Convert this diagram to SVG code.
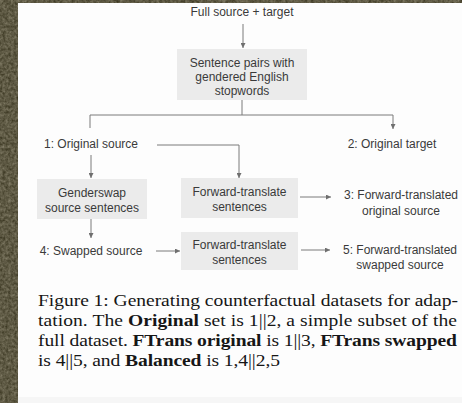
<svg xmlns="http://www.w3.org/2000/svg" width="462" height="403" viewBox="0 0 462 403">
<defs>
<filter id="grain" x="0" y="0" width="100%" height="100%">
<feTurbulence type="fractalNoise" baseFrequency="0.35" numOctaves="3" seed="4"/>
<feColorMatrix type="matrix" values="0 0 0 0 0.23  0 0 0 0 0.21  0 0 0 0 0.14  0 0 0 -1.2 1.1"/>
</filter>
<marker id="ah" viewBox="0 0 10 10" refX="10" refY="5" markerWidth="5" markerHeight="5" markerUnits="userSpaceOnUse" orient="auto">
<path d="M0,0 L10,5 L0,10 z" fill="#6f6f6f"/>
</marker>
<style>
.box{fill:#ebebeb;}
.lbl{font-family:"Liberation Sans",Arial,sans-serif;font-size:12px;fill:#3a3a3a;text-anchor:middle;}
.cap{font-family:"Liberation Serif","Times New Roman",serif;font-size:17px;fill:#161616;}
.b{font-weight:bold;}
.con{fill:none;stroke:#7a7a7a;stroke-width:1;}
.arr{marker-end:url(#ah);}
</style>
</defs>
<rect x="0" y="0" width="462" height="403" fill="#38341f"/>
<rect x="0" y="0" width="462" height="403" filter="url(#grain)"/>
<rect x="18" y="3" width="444" height="394" fill="#fdfdfd"/>
<rect x="18" y="397" width="444" height="6" fill="#f6f6f6"/>

<g id="connectors">
<line class="con arr" x1="243" y1="24" x2="243" y2="48"/>
<polyline class="con" points="242,100 242,115"/>
<polyline class="con arr" points="90,128 90,115 393,115 393,129"/>
<polyline class="con arr" points="157,145 239,145 239,178"/>
<line class="con arr" x1="91" y1="155" x2="91" y2="178"/>
<line class="con arr" x1="300" y1="197" x2="331" y2="197"/>
<line class="con arr" x1="91" y1="219" x2="91" y2="238"/>
<line class="con arr" x1="156" y1="251" x2="180" y2="251"/>
<line class="con arr" x1="301" y1="250" x2="330" y2="250"/>
</g>

<g id="full-source-target">
<text class="lbl" x="242" y="16">Full source + target</text>
</g>
<g id="sentence-pairs">
<rect class="box" x="177" y="49" width="130" height="51"/>
<text class="lbl" x="242" y="67">Sentence pairs with</text>
<text class="lbl" x="242" y="81">gendered English</text>
<text class="lbl" x="242" y="95">stopwords</text>
</g>
<g id="original-source">
<text class="lbl" x="91" y="148">1: Original source</text>
</g>
<g id="original-target">
<text class="lbl" x="392" y="148">2: Original target</text>
</g>
<g id="genderswap">
<rect class="box" x="37" y="179" width="110" height="40"/>
<text class="lbl" x="92" y="197">Genderswap</text>
<text class="lbl" x="92" y="212">source sentences</text>
</g>
<g id="forward-translate-1">
<rect class="box" x="181" y="178" width="117" height="40"/>
<text class="lbl" x="239.5" y="196">Forward-translate</text>
<text class="lbl" x="239.5" y="211">sentences</text>
</g>
<g id="ft-original-source">
<text class="lbl" x="401" y="199">3: Forward-translated</text>
<text class="lbl" x="401" y="215">original source</text>
</g>
<g id="swapped-source">
<text class="lbl" x="91" y="255">4: Swapped source</text>
</g>
<g id="forward-translate-2">
<rect class="box" x="181" y="232" width="117" height="38"/>
<text class="lbl" x="239.5" y="249">Forward-translate</text>
<text class="lbl" x="239.5" y="264">sentences</text>
</g>
<g id="ft-swapped-source">
<text class="lbl" x="400" y="254">5: Forward-translated</text>
<text class="lbl" x="400" y="269">swapped source</text>
</g>

<g id="caption" transform="scale(1.15 1)">
<text class="cap" x="33.04" y="306" textLength="365.2" lengthAdjust="spacing">Figure 1: Generating counterfactual datasets for adap-</text>
<text class="cap" x="33.04" y="326" textLength="364.3" lengthAdjust="spacing">tation. The <tspan class="b">Original</tspan> set is 1||2, a simple subset of the</text>
<text class="cap" x="33.04" y="346" textLength="364.3" lengthAdjust="spacing">full dataset. <tspan class="b">FTrans original</tspan> is 1||3, <tspan class="b">FTrans swapped</tspan></text>
<text class="cap" x="33.04" y="366" textLength="210.4" lengthAdjust="spacing">is 4||5, and <tspan class="b">Balanced</tspan> is 1,4||2,5</text>
</g>
</svg>
